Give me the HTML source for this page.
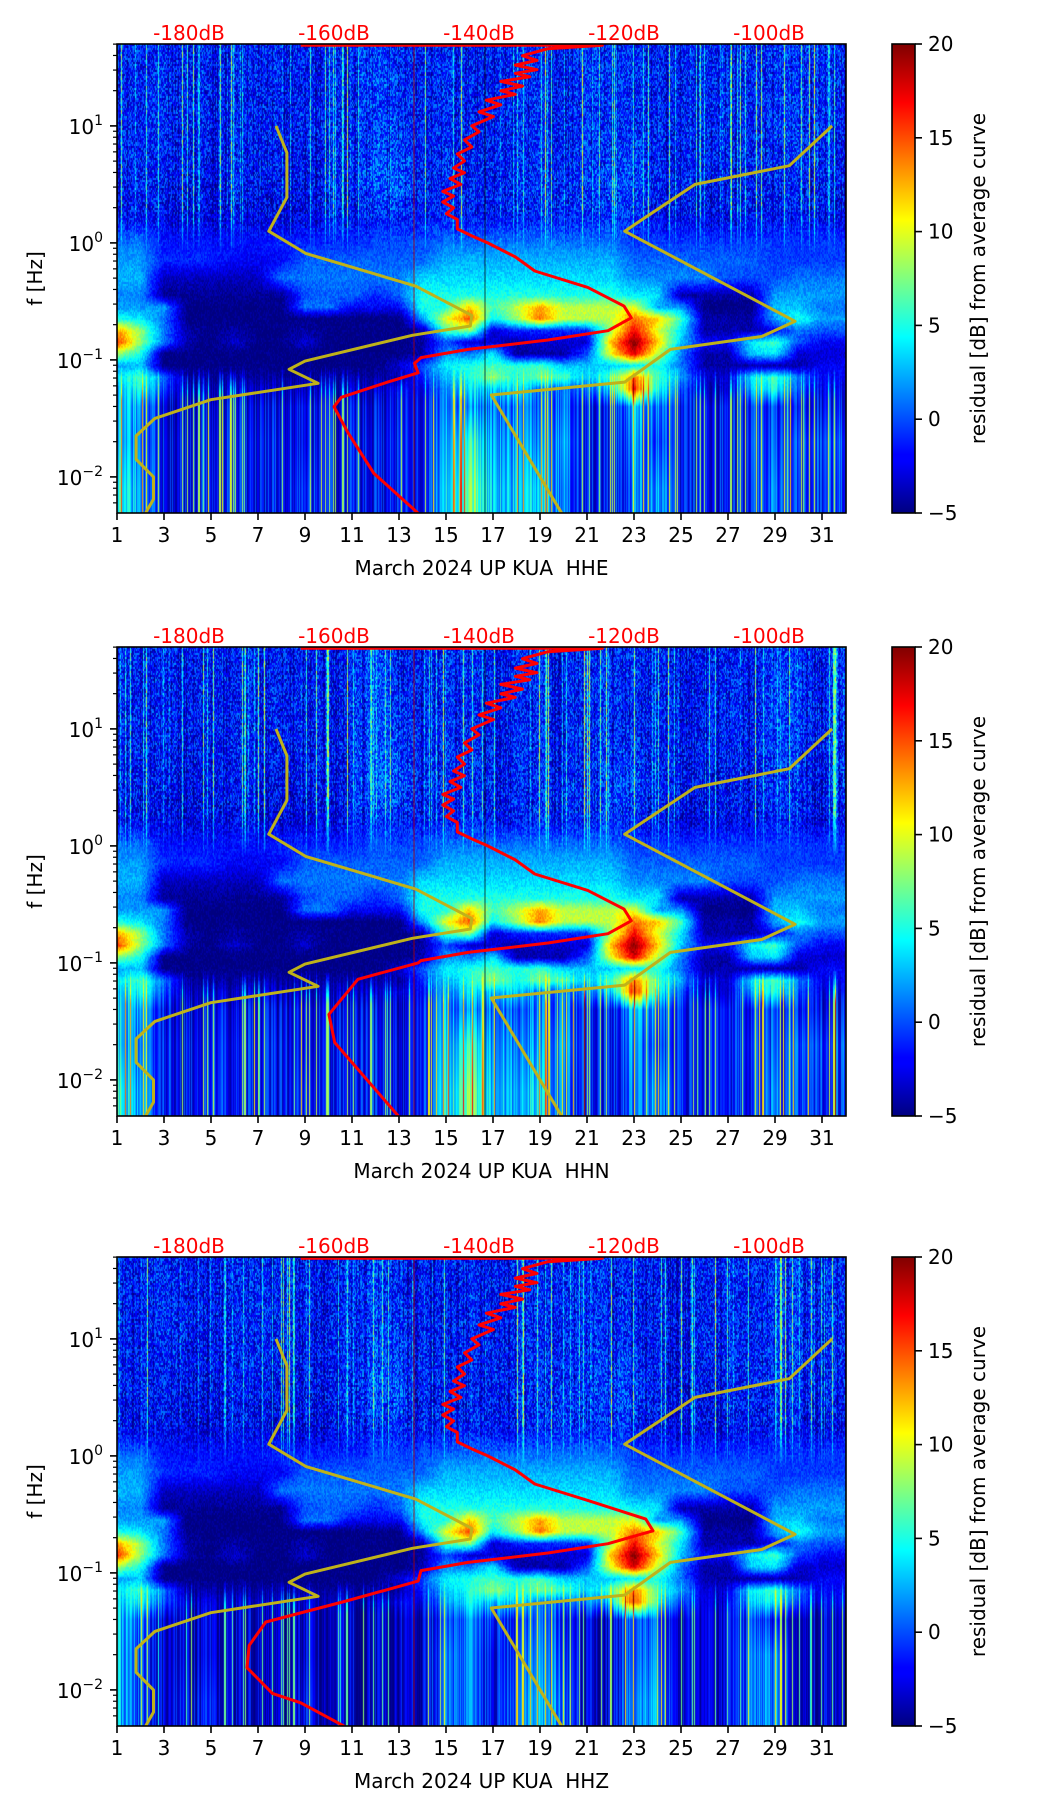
<!DOCTYPE html>
<html><head><meta charset="utf-8">
<style>
html,body{margin:0;padding:0;background:#fff;}
#root{position:relative;width:1052px;height:1806px;overflow:hidden;background:#fff;}
canvas{position:absolute;}
svg{position:absolute;left:0;top:0;}
text{font-family:"DejaVu Sans","Liberation Sans",sans-serif;white-space:pre;}
</style></head>
<body>
<div id="root">
<canvas id="c0" width="729" height="469" style="left:117px;top:44px"></canvas>
<canvas id="c1" width="729" height="469" style="left:117px;top:647px"></canvas>
<canvas id="c2" width="729" height="469" style="left:117px;top:1257px"></canvas>
<svg id="ov" width="1052" height="1806">
<defs>
<linearGradient id="jet" x1="0" y1="1" x2="0" y2="0">
<stop offset="0" stop-color="#000080"/><stop offset="0.11" stop-color="#0000ff"/><stop offset="0.125" stop-color="#0000ff"/>
<stop offset="0.375" stop-color="#00ffff"/><stop offset="0.625" stop-color="#ffff00"/><stop offset="0.875" stop-color="#ff0000"/><stop offset="1" stop-color="#800000"/>
</linearGradient>
</defs>
</svg>
</div>
<script>
// ---- data ----
const days = [1,2,3,4,5,6,7,8,9,10,11,12,13,14,15,16,17,18,19,20,21,22,23,24,25,26,27,28,29,30,31];
const rowLogF = [1.5,1.0,0.5,0.2,0.0,-0.15,-0.3,-0.45,-0.55,-0.65,-0.75,-0.85,-0.95,-1.05,-1.15,-1.25,-1.4,-1.7,-2.1];
const gridMain = [
[-1,-1.5,-1,-1.5,-1.5,-1.5,-1,-1.5,-1.5,-1.5,-1,0,-1,-1.5,-1,-1,-1.5,-1,-1,-1.5,-0.5,-1,-1,-1.5,-1.5,-1.5,-1,-1.5,-0.5,-0.5,-1],
[-1,-1.5,-1,-1.5,-1.5,-1.5,-1,-1.5,-1.5,-1.5,-1,0,-0.5,-1.5,-1,-1,-1.5,-1,-1,-1.5,-0.5,-1,-1,-1.5,-1.5,-1.5,-1,-1.5,-0.5,-0.5,-1],
[-1.5,-1.5,-1.5,-2,-2,-1.5,-1.5,-2,-2,-1.5,-1,0.5,0.5,-1.5,-1,-1,-1.5,-1,-1,-1,-0.5,0,0,-1.5,-1.5,-2,-1.5,-1.5,-1,-1,-1.5],
[-1.5,-2,-2,-2.5,-2.5,-2,-2,-2.5,-2.5,-2,-1.5,-1,-1,-1.5,-1,-1,-1.5,-1.5,-1,-1,-1,-0.5,-1,-2,-2,-2.5,-2,-2,-1.5,-1.5,-2],
[1,1,-1.5,-1.5,-1.5,-1.5,-1.5,-1,-1,-1,-1,0,0,0,1,1,1,1,1,1,1,1,-0.5,-0.5,-0.5,-0.5,-0.5,-0.5,-0.5,-0.5,-0.5],
[2,2,-1,-1,-1,-2,-2,-2,0.5,0.5,0.5,0.5,0.5,0.5,2.5,2.5,2.5,2.5,2.5,2.5,2.5,2.5,0.5,0.5,0.5,0.5,0.5,0.5,-0.5,-0.5,-0.5],
[2.5,2.5,-3.5,-3.5,-3.5,-3.5,-3.5,1,1,1,1,1,1,3.5,3.5,3.5,3.5,3.5,3.5,3.5,3.5,3.5,1.5,1.5,1.5,1.5,0,0,0,1,1],
[1.5,1.5,-4.5,-4.5,-4.5,-4.5,-4.5,-4.5,0,0.5,0.5,-1,0.5,5,5,5,5,5,5,5,5,5,4,4,-4,-4,-4,-4,2,2,2],
[2,2,2,-5,-5,-5,-5,-5,1,1,-2,-2,-2,5,5,12,6,9,13,9,9,9,10,2,2,-5,-5,-5,3,3,1],
[5,4,1,-5,-5,-5,-5,-5,-5,-5,-5,-5,-5,2,10,15,4,8,14,9,9,9,14,12,6,-4,-4,-4,2,5,2],
[13,8,1,-4,-5,-4,-5,-5,-4,-5,-5,-5,-5,-4,6,8,-3,-1,-1,-1,-1,8,17,10,4,-4,-4,-4,-2,1,0],
[16,8,1,-4,-5,-3,-5,-5,-3,-5,-5,-5,-5,-4,0,-3,-3,-4,-3,-3,-3,12,20,12,3,-2,-2,4,6,0,-2],
[8,5,-5,-5,-5,-5,-5,-5,-5,-5,-5,-5,-5,-4,2,1,4,-4,-4,-4,0,10,18,9,1,-4,-4,3,4,-3,-3],
[2,3,-5,-5,-5,-5,-5,-5,-5,-5,-5,-5,-3,0,4,5,6,5,6,3,3,3,4,5,1,-4,-4,-4,-4,-4,-2],
[4,6,1,-4,-4,-4,-4,-4,-4,-4,-4,-4,-4,-1,3,5,8,5,7,6,3,6,14,6,2,-3,-3,4,6,1,-2],
[3,5,0,-3,-3,-3,-3,-3,-3,-3,-3,-3,-2,-2,2,4,3,4,1,1,1,3,16,5,0,-3,-3,3,5,0,-2],
[4,2,-2,-2,-1.5,-2,-2,-2,-1.5,-2,-2,-2,-2,-1.5,2,2,1,1,1,1,-1.5,-1.5,3,1,-1.5,-1.5,-1.5,-0.5,-0.5,-1.5,-1.5],
[4,1,-1.5,-1.5,-1,-1.5,-1.5,-1.5,-1.5,-1.5,-1.5,-1.5,-1.5,-1.5,3,6,2,2,2,2,-1.5,-1.5,2,0,-1.5,-1.5,-1.5,0,0,0,0],
[6,2,-1.5,-1.5,-0.5,-1.5,-1.5,-1.5,-0.5,-1.5,-1.5,-1.5,-1.5,-1.5,4,8,3,3,4,1,-1.5,-1.5,1,2,-1.5,-1.5,-1.5,-0.5,1,-0.5,-0.5]
];
const lowRowsZ = [
[3,1,-3,-3,-3,-3,-3,-3,-3,-3,-3,-3,-3,-3,0,1,-1,-1,1,-1,-3,-3,1,0,-3,-3,-3,0,-1,-3,-3],
[3,0,-3,-3,-3,-3,-3,-3,-3,-3,-3,-3,-3,-3,1,1,-2,0,2,0,-3,-3,1,1,-3,-3,-3,1,2,-3,-3],
[3,0,-3,-2,-2,-3,-3,-3,-2,-3,-3,-3,-3,-3,1,1,-2,1,3,1,-3,-3,2,2,-3,-3,-3,1,2,-3,-3]
];
const nlnmDb = [-168,-166.5,-166.5,-169,-163.9,-148.7,-141,-141.2,-149.2,-164,-166.2,-162.2,-177,-184.7,-187.3,-187.3,-184.9,-184.9,-186];
const nlnmLogF = [1.0,0.77,0.39,0.10,-0.09,-0.37,-0.62,-0.71,-0.79,-1.01,-1.08,-1.20,-1.34,-1.50,-1.65,-1.85,-2.0,-2.19,-2.31];
const nhnmDb = [-91.3,-97.2,-110.2,-119.9,-96.4,-101,-113.6,-119.9,-138.3,-128.6];
const nhnmLogF = [1.0,0.66,0.50,0.10,-0.67,-0.80,-0.91,-1.19,-1.30,-2.31];
const avgUpperDb = [-164.6,-123,-130.5,-134,-132,-135,-132,-135,-133,-137,-134,-137,-135,-139,-137,-140,-138,-141,-140,-142,-141,-143,-142,-143.5,-142,-144,-142.5,-145,-143.5,-145,-143.5,-144.5,-143,-143,-141,-138.8,-135,-132.3,-125,-120,-119,-122.2,-130.5,-141.5,-148];
const avgUpperLogF = [1.69,1.69,1.66,1.60,1.56,1.52,1.48,1.45,1.42,1.38,1.34,1.30,1.27,1.22,1.18,1.12,1.08,1.0,0.95,0.88,0.82,0.76,0.70,0.64,0.60,0.55,0.50,0.44,0.40,0.35,0.30,0.25,0.20,0.12,0.06,0.0,-0.12,-0.24,-0.38,-0.54,-0.64,-0.75,-0.83,-0.91,-0.98];
const avgLowDbE = [-148.9,-148.4,-152.6,-159,-160,-158.1,-154.5,-148.4];
const avgLowLogFE = [-1.03,-1.11,-1.19,-1.32,-1.40,-1.62,-1.97,-2.31];
const avgLowDbN = [-148.4,-156.7,-160.7,-159.9,-151.1];
const avgLowLogFN = [-1.0,-1.14,-1.44,-1.68,-2.31];
const avgLowDbZ = [-148.4,-158.3,-169.4,-171.7,-172,-168.5,-164.6,-158.3];
const avgLowLogFZ = [-1.07,-1.24,-1.42,-1.62,-1.81,-2.03,-2.11,-2.32];
const dbTicks = [-180,-160,-140,-120,-100];
const dayTicks = [1,3,5,7,9,11,13,15,17,19,21,23,25,27,29,31];
const decadeTicks = [-2,-1,0,1];
const cbTicks = [-5,0,5,10,15,20];
const channels = ["HHE","HHN","HHZ"];

const X0=117, PW=729, PH=469, DAYW=23.5, DEC=117, LTOP=1.7;
const tops=[44,647,1257];
const xDay = d => X0 + (d-1)*DAYW;
const yLog = (top,l) => top + (LTOP-l)*DEC;
const xDb = db => 189 + (db+180)/20*145;
const NS="http://www.w3.org/2000/svg";
const svg=document.getElementById('ov');
function mk(tag, attrs, parent){const e=document.createElementNS(NS,tag);for(const k in attrs)e.setAttribute(k,attrs[k]);(parent||svg).appendChild(e);return e;}

function jet(v){const t=Math.max(0,Math.min(1,(v+5)/25));
 const c=x=>Math.max(0,Math.min(1,x));
 return [c(1.5-Math.abs(4*t-3))*255,c(1.5-Math.abs(4*t-2))*255,c(1.5-Math.abs(4*t-1))*255];}
function hash(n){const s=Math.sin(n*12.9898+78.233)*43758.5453;return s-Math.floor(s);}
const cl01=x=>Math.max(0,Math.min(1,x));

function drawSpec(ci, grid){
 const cv=document.getElementById('c'+ci);const ctx=cv.getContext('2d');
 const img=ctx.createImageData(PW,PH);const D=img.data;
 for(let py=0;py<PH;py++){
  const l=LTOP-(py+0.5)/DEC;
  let r0=0,r1=0,fr=0;
  if(l>=rowLogF[0]){r0=r1=0;}else if(l<=rowLogF[rowLogF.length-1]){r0=r1=rowLogF.length-1;}
  else{for(let i=0;i<rowLogF.length-1;i++){if(l<=rowLogF[i]&&l>rowLogF[i+1]){r0=i;r1=i+1;fr=(rowLogF[i]-l)/(rowLogF[i]-rowLogF[i+1]);break;}}}
  const wUp=cl01((l+0.1)/0.4), wLow=cl01((-1.05-l)/0.3);
  for(let px=0;px<PW;px++){
   const d=1+(px+0.5)/DAYW;
   let c0=Math.floor(d)-1,f=d-Math.floor(d);
   let ca=Math.max(0,Math.min(30,c0)),cb=Math.max(0,Math.min(30,c0+1));
   const va=grid[r0][ca]*(1-f)+grid[r0][cb]*f;
   const vb=grid[r1][ca]*(1-f)+grid[r1][cb]*f;
   let v=va*(1-fr)+vb*fr;
   const colH=hash(px*1.37+ci*101);
   const colH2=hash(px*2.71+ci*53);
   // upper speckle + streaks
   let up=(hash(px*31+(py>>1)*1013+ci*7)-0.5)*6;
   if(colH>0.88)up+=(colH-0.88)*80;
   if(colH2<0.2)up-=2;
   // lower streaks
   let lo=(colH-0.5)*6;
   if(colH>0.93)lo+=7;
   if(colH2>0.97)lo+=10;
   const mid=(hash(px*17+(py>>1)*577+ci)-0.5)*2;
   v+=up*wUp+lo*wLow+mid*(1-wUp)*(1-wLow);
   const [R,G,B]=jet(v);const k=(py*PW+px)*4;
   D[k]=R;D[k+1]=G;D[k+2]=B;D[k+3]=255;
  }
 }
 ctx.putImageData(img,0,0);
}

function polyPts(top, dbs, lfs){return dbs.map((db,i)=>xDb(db).toFixed(1)+','+yLog(top,lfs[i]).toFixed(1)).join(' ');}

for(let p=0;p<3;p++){
 const top=tops[p], bot=top+PH;
 let grid=gridMain;
 if(p===2){grid=gridMain.slice(0,16).concat(lowRowsZ);}
 drawSpec(p,grid);
 const g=mk('g',{});
 
 
 const clip=mk('clipPath',{id:'clip'+p},g);
 mk('rect',{x:X0,y:top,width:PW,height:PH},clip);
 const cg=mk('g',{'clip-path':'url(#clip'+p+')'},g);
 const vl1=mk('line',{x1:414,x2:414,y1:top,y2:bot,stroke:'#b00000','stroke-width':1,opacity:0.8},cg);
 
 
 if(p<2){const vl2=mk('line',{x1:485,x2:485,y1:top,y2:bot,stroke:'#000','stroke-width':1,opacity:0.7},cg);
 
 }
 const lo=mk('polyline',{points:polyPts(top,nlnmDb,nlnmLogF),fill:'none',stroke:'#bfb21a','stroke-width':3,'stroke-linejoin':'round'},cg);
 
 
 const hi=mk('polyline',{points:polyPts(top,nhnmDb,nhnmLogF),fill:'none',stroke:'#bfb21a','stroke-width':3,'stroke-linejoin':'round'},cg);
 
 
 let ldb=avgLowDbE, llf=avgLowLogFE;
 if(p===1){ldb=avgLowDbN;llf=avgLowLogFN;}
 if(p===2){ldb=avgLowDbZ;llf=avgLowLogFZ;}
 const up=avgUpperDb.map(v=>v===-120||v===-119?v+(p===2?3:0):v);
 const rc=mk('polyline',{points:polyPts(top,up.concat(ldb),avgUpperLogF.concat(llf)),fill:'none',stroke:'#ff0000','stroke-width':3,'stroke-linejoin':'round'},cg);
 
 
 const sp=mk('rect',{x:X0,y:top,width:PW,height:PH,fill:'none',stroke:'#000','stroke-width':1.6},g);
 
 
 dayTicks.forEach(d=>{const x=xDay(d);
  mk('line',{x1:x,x2:x,y1:bot,y2:bot+7,stroke:'#000','stroke-width':1.6},g);
  const t=mk('text',{x:x,y:bot+29,'text-anchor':'middle','font-size':20,fill:'#000'},g);t.textContent=d;
  
  
 });
 for(let e=-3;e<=1;e++)for(let m=2;m<=9;m++){const l=e+Math.log10(m);if(l>-2.301&&l<LTOP){const y=yLog(top,l);mk('line',{x1:X0-4,x2:X0,y1:y,y2:y,stroke:'#000','stroke-width':1.2},g);}}
 decadeTicks.forEach(e=>{const y=yLog(top,e);
  mk('line',{x1:X0-7,x2:X0,y1:y,y2:y,stroke:'#000','stroke-width':1.6},g);
  const t=mk('text',{x:103,y:y+8,'text-anchor':'end','font-size':20,fill:'#000'},g);
  
  
  t.appendChild(document.createTextNode('10'));
  const ts=mk('tspan',{dy:-9,'font-size':14},t);ts.textContent=(e<0?'\u2212':'')+Math.abs(e);
 });
 dbTicks.forEach(db=>{const t=mk('text',{x:xDb(db),y:top-4,'text-anchor':'middle','font-size':20,fill:'#ff0000'},g);t.textContent=db+'dB';
  
  });
 const xl=mk('text',{x:X0+PW/2,y:bot+62,'text-anchor':'middle','font-size':20,fill:'#000'},g);xl.textContent='March 2024 UP KUA\u00a0\u00a0'+channels[p];
 
 
 const yl=mk('text',{x:0,y:0,'text-anchor':'middle','font-size':20,fill:'#000',transform:'translate(42,'+(top+PH/2)+') rotate(-90)'},g);yl.textContent='f [Hz]';
 
 
 const cb=mk('rect',{x:892,y:top,width:23,height:PH,fill:'url(#jet)',stroke:'#000','stroke-width':1.6},g);
 
 
 cbTicks.forEach(v=>{const y=bot-(v+5)/25*PH;
  mk('line',{x1:915,x2:922,y1:y,y2:y,stroke:'#000','stroke-width':1.6},g);
  const t=mk('text',{x:928,y:y+7,'font-size':20,fill:'#000'},g);t.textContent=(v<0?'\u2212':'')+Math.abs(v);
  
  });
 const cl=mk('text',{x:0,y:0,'text-anchor':'middle','font-size':20,fill:'#000',transform:'translate(985,'+(top+PH/2)+') rotate(-90)'},g);cl.textContent='residual [dB] from average curve';
 
 
}
</script>
</body></html>
